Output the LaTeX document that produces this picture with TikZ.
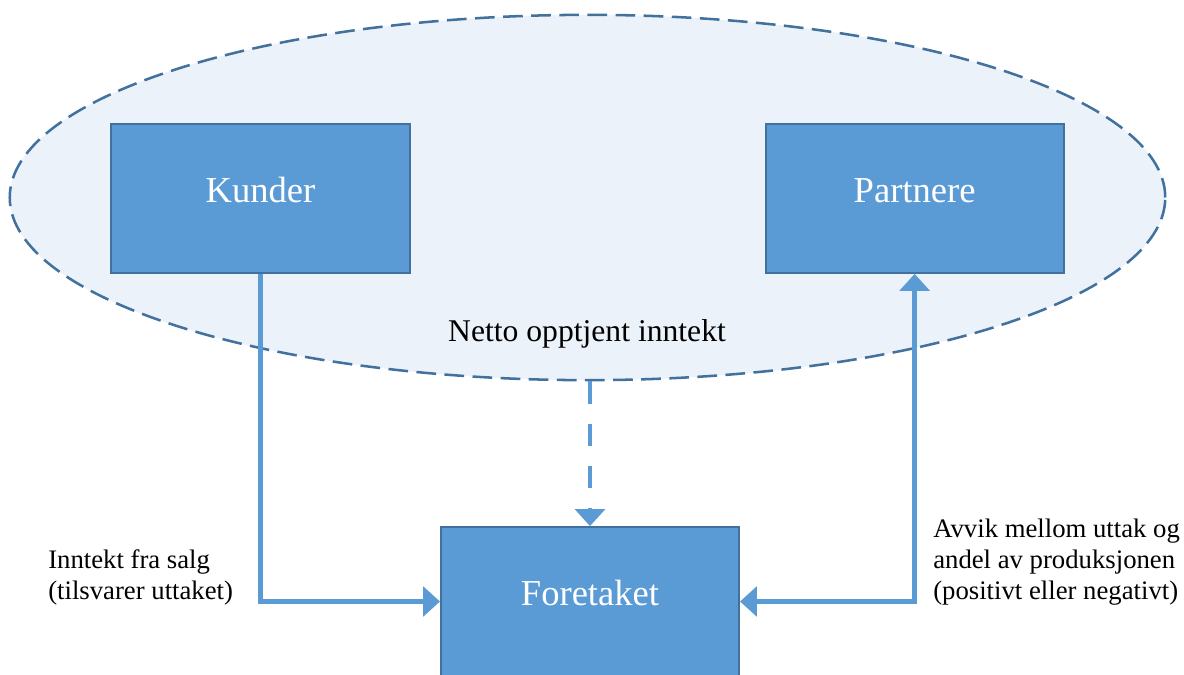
\documentclass[tikz,border=0pt]{standalone}
\usepackage{fontspec}
\setmainfont{Liberation Serif}
\usetikzlibrary{arrows.meta,positioning,shapes.geometric}
\definecolor{boxblue}{HTML}{5B9BD5}
\definecolor{boxedge}{HTML}{41719C}
\definecolor{cloud}{HTML}{EBF2FA}
\tikzset{%
	block/.style  = {draw=boxedge, fill=boxblue, rectangle, line width=1.4pt, minimum width=7.45cm, minimum height=3.72cm, text=white, font=\fontsize{26}{31}\selectfont, text height=18pt, text depth=12pt}, % Box
	group/.style  = {draw=boxedge, fill=cloud, ellipse, line width=1.8pt, dash pattern=on 14pt off 6pt, minimum width=28.88cm, minimum height=9.13cm, inner sep=0pt}, % Ellipse
	note/.style   = {align=left, inner sep=0pt, font=\fontsize{19}{22}\selectfont}, % Label
	flow/.style   = {draw=boxblue, line width=3.5pt, -{Triangle[length=12pt,width=21pt]}},
}

\begin{document}
\begin{tikzpicture}[x=0.025cm,y=-0.025cm]
	\useasboundingbox (0,0) rectangle (1184,675);
	\node[group] (grp) at (587.5,197.5) {};
	\node[block] (kunder) at (260.5,198.5) {Kunder};
	\node[block,right=8.85cm of kunder] (partnere) {Partnere};
	\node[block] (foretak) at (590,601.5) {Foretaket};
	\node[anchor=base,font=\fontsize{22.5}{27}\selectfont] (netto) at (587,342) {Netto opptjent inntekt};
	\node[note,anchor=north west] (salg) at (48,549) {Inntekt fra salg\\(tilsvarer uttaket)};
	\node[note,anchor=north west] (avvik) at (933,519) {Avvik mellom uttak og\\andel av produksjonen\\(positivt eller negativt)};
	\coordinate (drop) at (grp.south -| foretak.north);
	
	\draw[flow] (kunder.south) |- (foretak.west);
	\draw[flow,{Triangle[length=12pt,width=21pt]}-{Triangle[length=12pt,width=21pt]}] (foretak.east) -| (partnere.south);
	\draw[flow,dash pattern=on 16pt off 14pt] (drop) -- (foretak.north);
\end{tikzpicture}
\end{document}
